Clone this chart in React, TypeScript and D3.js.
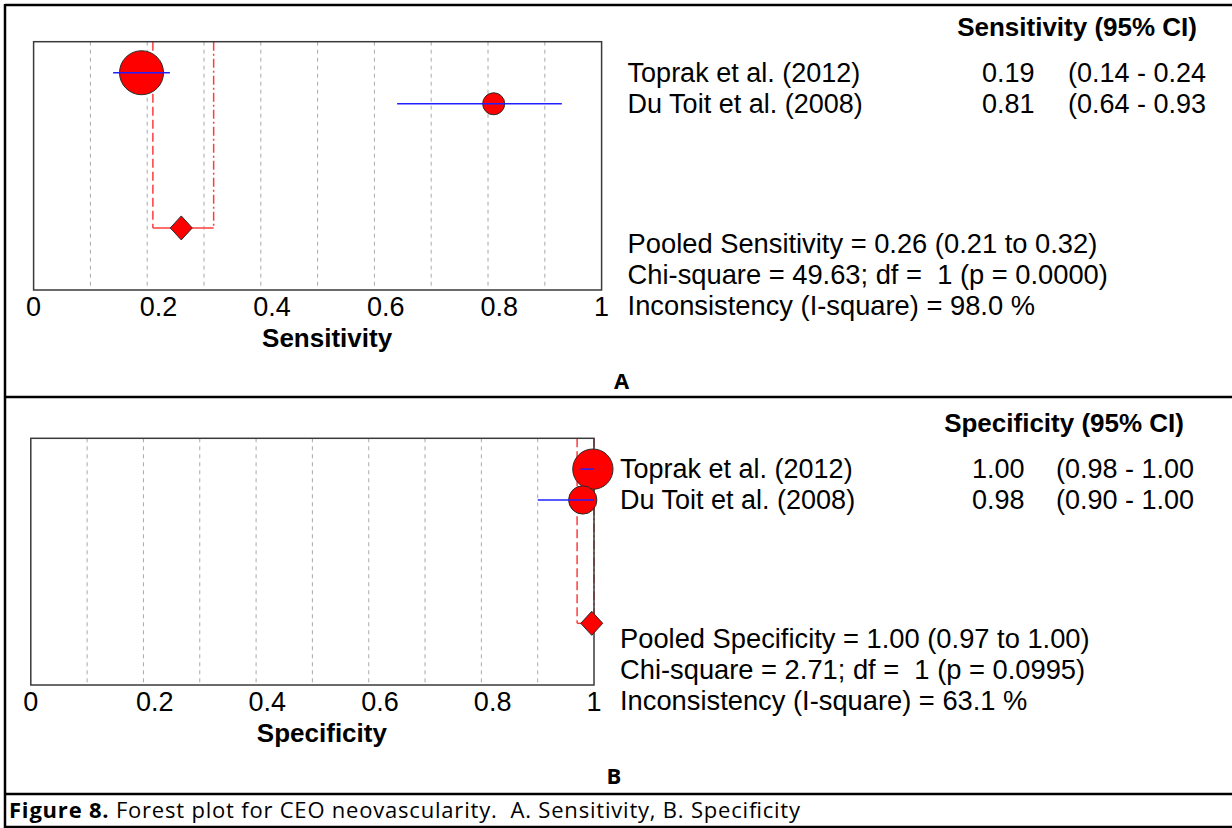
import { useEffect, useRef } from 'react';
import * as d3 from 'd3';

// study data
const studies = ["Toprak et al. (2012)", "Du Toit et al. (2008)"];

const sensEst = [0.19, 0.81];
const sensLo = [0.14, 0.64];
const sensHi = [0.24, 0.93];
const sensWeight = [0.8, 0.2];
const sensValText = ["0.19", "0.81"];
const sensCiText = ["(0.14 - 0.24", "(0.64 - 0.93"];
const sensPooled = [0.26, 0.21, 0.317]; // estimate, lo, hi
const sensSummary = [
  "Pooled Sensitivity = 0.26 (0.21 to 0.32)",
  "Chi-square = 49.63; df =  1 (p = 0.0000)",
  "Inconsistency (I-square) = 98.0 %",
];

const specEst = [0.998, 0.98];
const specLo = [0.976, 0.90];
const specHi = [1.0, 1.0];
const specWeight = [0.67, 0.33];
const specValText = ["1.00", "0.98"];
const specCiText = ["(0.98 - 1.00", "(0.90 - 1.00"];
const specPooled = [0.996, 0.97, 1.0];
const specSummary = [
  "Pooled Specificity = 1.00 (0.97 to 1.00)",
  "Chi-square = 2.71; df =  1 (p = 0.0995)",
  "Inconsistency (I-square) = 63.1 %",
];

const xTicks = [0, 0.2, 0.4, 0.6, 0.8, 1];
const gridTicks = [0.1, 0.2, 0.3, 0.4, 0.5, 0.6, 0.7, 0.8, 0.9];

const FONT = "'Liberation Sans', Arial, sans-serif";
const CAPFONT = "'Open Sans', 'Noto Sans', sans-serif";
const RED = "#ff0000";
const PINK = "#ff3c3c";

const App = () => {
  const ref = useRef<SVGSVGElement>(null);

  useEffect(() => {
    const svg = d3.select(ref.current);
    svg.selectAll("*").remove();

    const panels = [
      {
        left: 33.6, right: 601.6, top: 41.7, bottom: 290,
        est: sensEst, lo: sensLo, hi: sensHi, w: sensWeight,
        vals: sensValText, cis: sensCiText, pooled: sensPooled, summary: sensSummary,
        header: "Sensitivity (95% CI)", title: "Sensitivity", letter: "A",
        headerEnd: 1197, valX: 982, ciEnd: 1206,
      },
      {
        left: 30.8, right: 594, top: 438.3, bottom: 685,
        est: specEst, lo: specLo, hi: specHi, w: specWeight,
        vals: specValText, cis: specCiText, pooled: specPooled, summary: specSummary,
        header: "Specificity (95% CI)", title: "Specificity", letter: "B",
        headerEnd: 1184, valX: 972, ciEnd: 1194,
      },
    ];

    const r = d3.scaleSqrt().domain([0, 1]).range([0, 24.6]);

    panels.forEach(p => {
      const g = svg.append("g");
      const x = d3.scaleLinear().domain([0, 1]).range([p.left, p.right]);
      // row scale: rows 0,1 are studies, 5 is pooled
      const y = d3.scaleLinear().domain([-1, 7]).range([p.top, p.bottom]);

      // grid
      g.selectAll(".grid")
        .data(gridTicks)
        .enter()
        .append("line")
        .attr("x1", d => x(d)).attr("x2", d => x(d))
        .attr("y1", p.top).attr("y2", p.bottom)
        .attr("stroke", "#a8a8a8")
        .attr("stroke-width", 1)
        .attr("stroke-dasharray", "4,4");

      // pooled CI bounds
      const [pe, plo, phi] = p.pooled;
      g.append("line")
        .attr("x1", x(plo)).attr("x2", x(plo))
        .attr("y1", p.top).attr("y2", y(5))
        .attr("stroke", PINK).attr("stroke-width", 1.5)
        .attr("stroke-dasharray", "9,4");
      g.append("line")
        .attr("x1", x(phi)).attr("x2", x(phi))
        .attr("y1", p.top).attr("y2", y(5))
        .attr("stroke", PINK).attr("stroke-width", 1.5)
        .attr("stroke-dasharray", "9,3,2,3");
      g.append("line")
        .attr("x1", x(plo)).attr("x2", x(phi))
        .attr("y1", y(5)).attr("y2", y(5))
        .attr("stroke", PINK).attr("stroke-width", 1.5);

      // frame
      g.append("rect")
        .attr("x", p.left).attr("y", p.top)
        .attr("width", p.right - p.left).attr("height", p.bottom - p.top)
        .attr("fill", "none")
        .attr("stroke", "#3a3a3a")
        .attr("stroke-width", 1.5);

      // studies
      g.selectAll(".pt")
        .data(p.est)
        .enter()
        .append("circle")
        .attr("cx", d => x(d))
        .attr("cy", (d, i) => y(i))
        .attr("r", (d, i) => r(p.w[i]))
        .attr("fill", RED)
        .attr("stroke", "#2a2a2a")
        .attr("stroke-width", 1);

      g.selectAll(".ci")
        .data(p.est)
        .enter()
        .append("line")
        .attr("x1", (d, i) => x(p.lo[i]))
        .attr("x2", (d, i) => x(p.hi[i]))
        .attr("y1", (d, i) => y(i))
        .attr("y2", (d, i) => y(i))
        .attr("stroke", "#2020ff")
        .attr("stroke-width", 1.5);

      // pooled diamond
      const dx = 11, dy = 12;
      g.append("path")
        .attr("d", `M${x(pe) - dx},${y(5)} L${x(pe)},${y(5) - dy} L${x(pe) + dx},${y(5)} L${x(pe)},${y(5) + dy} Z`)
        .attr("fill", RED)
        .attr("stroke", "#2a2a2a")
        .attr("stroke-width", 1);

      // x axis labels: the tool anchors them one digit left of the tick
      g.selectAll(".tick")
        .data(xTicks)
        .enter()
        .append("text")
        .text(d => d3.format("")(d))
        .attr("x", d => x(d) - 7.5)
        .attr("y", p.bottom + 26)
        .attr("font-family", FONT)
        .attr("font-size", 27)
        .attr("fill", "#000");

      g.append("text")
        .text(p.title)
        .attr("x", (p.left + p.right) / 2 + 9.5)
        .attr("y", p.bottom + 57)
        .attr("text-anchor", "middle")
        .attr("font-family", FONT)
        .attr("font-weight", "bold")
        .attr("font-size", 26)
        .attr("fill", "#000");

      // right-hand text columns
      const tx = p.right + 26;
      g.append("text")
        .text(p.header)
        .attr("x", p.headerEnd)
        .attr("y", y(-1.5) + 9.5)
        .attr("text-anchor", "end")
        .attr("font-family", FONT)
        .attr("font-weight", "bold")
        .attr("font-size", 26)
        .attr("fill", "#000");

      studies.forEach((s, i) => {
        g.append("text").text(s)
          .attr("x", tx).attr("y", y(i) + 9)
          .attr("font-family", FONT).attr("font-size", 27).attr("fill", "#000");
        g.append("text").text(p.vals[i])
          .attr("x", p.valX).attr("y", y(i) + 9)
          .attr("font-family", FONT).attr("font-size", 27).attr("fill", "#000");
        g.append("text").text(p.cis[i])
          .attr("x", p.ciEnd).attr("y", y(i) + 9)
          .attr("text-anchor", "end")
          .attr("font-family", FONT).attr("font-size", 27).attr("fill", "#000");
      });

      p.summary.forEach((s, i) => {
        g.append("text").text(s)
          .attr("x", tx).attr("y", y(5.5 + i) + 9.5)
          .style("white-space", "pre")
          .attr("font-family", FONT).attr("font-size", 27.3).attr("fill", "#000");
      });

      g.append("text")
        .text(p.letter)
        .attr("x", tx - 6)
        .attr("y", p.bottom + 99)
        .attr("text-anchor", "middle")
        .attr("font-family", CAPFONT)
        .attr("font-weight", "bold")
        .attr("font-size", 22)
        .attr("fill", "#000");
    });

    // outer borders
    const border = (x1: number, y1: number, x2: number, y2: number) =>
      svg.append("line")
        .attr("x1", x1).attr("y1", y1).attr("x2", x2).attr("y2", y2)
        .attr("stroke", "#000").attr("stroke-width", 2.5);
    border(5, 5, 1232, 5);
    border(5, 397, 1232, 397);
    border(5, 794, 1232, 794);
    border(5, 827, 1232, 827);
    border(5, 4, 5, 828);

    // caption
    const cap = svg.append("text")
      .attr("x", 9)
      .attr("y", 818)
      .attr("textLength", 791)
      .attr("lengthAdjust", "spacing")
      .style("white-space", "pre")
      .attr("font-family", CAPFONT)
      .attr("font-size", 22)
      .attr("fill", "#000");
    cap.append("tspan").attr("font-weight", "bold").text("Figure 8.");
    cap.append("tspan").text(" Forest plot for CEO neovascularity.  A. Sensitivity, B. Specificity");
  }, []);

  return (
    <svg
      ref={ref}
      width={1232}
      height={828}
      style={{ position: "absolute", left: 0, top: 0, background: "#fff" }}
    />
  );
};

export default App;
